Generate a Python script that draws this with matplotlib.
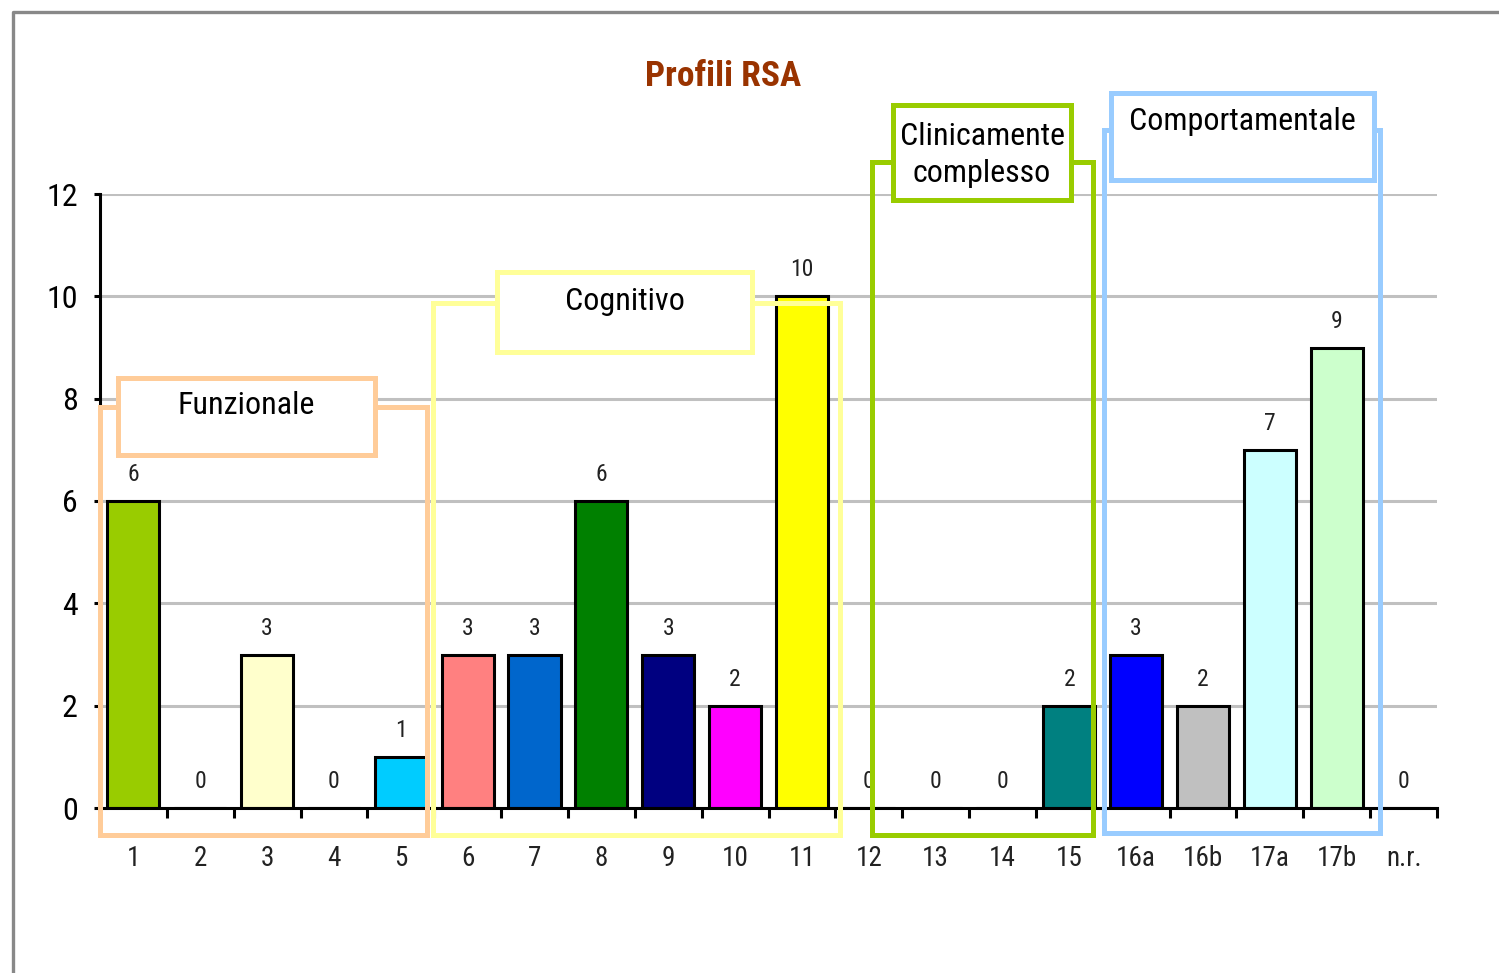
import numpy as np
import matplotlib
matplotlib.use("Agg")
import matplotlib.pyplot as plt
from matplotlib import font_manager as fm
from matplotlib.patches import Rectangle
from matplotlib.lines import Line2D

# pick a narrow sans-serif face if one is available
_installed = {(f.name, f.stretch) for f in fm.fontManager.ttflist}
_names = {n for n, _ in _installed}
FAMILY, STRETCH = 'DejaVu Sans', 'normal'
for cand in ['Liberation Sans Narrow', 'Roboto Condensed', 'Open Sans Condensed',
             'Arial Narrow', 'Noto Sans Condensed']:
    if cand in _names:
        FAMILY = cand
        break
else:
    for n, s in _installed:
        if s in ('condensed', 'semi-condensed', 'extra-condensed'):
            if n in ('Roboto', 'Noto Sans', 'Open Sans', 'DejaVu Sans', 'Lato', 'Inter'):
                FAMILY, STRETCH = n, s
                break

plt.rcParams['font.family'] = [FAMILY, 'DejaVu Sans']
plt.rcParams['font.stretch'] = STRETCH

# ---- data -------------------------------------------------------------
categories = ['1', '2', '3', '4', '5', '6', '7', '8', '9', '10', '11', '12',
              '13', '14', '15', '16a', '16b', '17a', '17b', 'n.r.']
values = [6, 0, 3, 0, 1, 3, 3, 6, 3, 2, 10, 0, 0, 0, 2, 3, 2, 7, 9, 0]
bar_colors = ['#99CC00', '#FFFFFF', '#FFFFCC', '#FFFFFF', '#00CCFF',
              '#FF8080', '#0066CC', '#008000', '#000080', '#FF00FF',
              '#FFFF00', '#FFFFFF', '#FFFFFF', '#FFFFFF', '#008080',
              '#0000FF', '#C0C0C0', '#CCFFFF', '#CCFFCC', '#FFFFFF']
y_ticks = [0, 2, 4, 6, 8, 10, 12]
title = 'Profili RSA'

# profile groups: label, border colour, outer frame and label box (pixels)
groups = [
    ('Funzionale', '#FFCC99', (100, 407, 427, 835), (118, 378, 375, 455), 405),
    ('Cognitivo', '#FFFF99', (433, 303, 840, 835), (497, 272, 752, 352), 302),
    ('Clinicamente\ncomplesso', '#99CC00', (872, 162, 1093, 835), (893, 105, 1071, 200), 155),
    ('Comportamentale', '#99CCFF', (1104, 130, 1380, 833), (1111, 93, 1374, 180), 122),
]

W, H = 1499, 973
fig = plt.figure(figsize=(W / 100, H / 100), dpi=100)


def fx(px):
    return px / W


def fy(py):
    return 1 - py / H


ax = fig.add_axes([fx(100), fy(808), fx(1437) - fx(100), fy(194) - fy(808)])

x = np.arange(len(categories))
ax.bar(x, values, width=0.78, color=bar_colors, edgecolor='black',
       linewidth=2.2, zorder=3)

for xi, v in zip(x, values):
    ax.annotate(str(v), (xi, v), xytext=(0, 19), textcoords='offset points',
                ha='center', va='center', fontsize=17, color='#222222',
                zorder=4)

ax.set_xlim(-0.5, len(categories) - 0.5)
ax.set_ylim(0, 12)
ax.set_yticks(y_ticks)
ax.set_yticklabels([str(t) for t in y_ticks], fontsize=23)
ax.set_xticks(x)
ax.set_xticklabels(categories, fontsize=19.5, color='#222222')
ax.set_xticks(np.arange(-0.5, len(categories), 1), minor=True)
ax.tick_params(axis='x', which='major', length=0, pad=27)
ax.tick_params(axis='x', which='minor', length=7, width=2.2, direction='out')
ax.tick_params(axis='y', length=4, width=2.2, pad=12)

ax.grid(axis='y', color='#C0C0C0', linewidth=2.2, zorder=0)
ax.set_axisbelow(True)
for s in ('top', 'right'):
    ax.spines[s].set_visible(False)
for s in ('left', 'bottom'):
    ax.spines[s].set_linewidth(2.2)
    ax.spines[s].set_zorder(3.5)

# outer frame of the chart area
fig.add_artist(Line2D([fx(12.5), fx(12.5), 1], [0, fy(11.5), fy(11.5)],
                      color='#888888', linewidth=2.4,
                      transform=fig.transFigure))

fig.text(fx(723), fy(76), title, ha='center', va='center', fontsize=25.5,
         fontweight='bold', color='#993300')

# group frames and their labels
for label, col, (x0, y0, x1, y1), (bx0, by0, bx1, by1), ty in groups:
    fig.add_artist(Rectangle((fx(x0), fy(y1)), fx(x1) - fx(x0), fy(y0) - fy(y1),
                             fill=False, edgecolor=col, linewidth=3.6,
                             transform=fig.transFigure, zorder=5))
    fig.add_artist(Rectangle((fx(bx0), fy(by1)), fx(bx1) - fx(bx0), fy(by0) - fy(by1),
                             facecolor='white', edgecolor=col, linewidth=3.6,
                             transform=fig.transFigure, zorder=6))
    fig.text(fx((bx0 + bx1) / 2), fy(ty), label, ha='center', va='center',
             fontsize=23, linespacing=1.35, zorder=7)

fig.savefig('out.png', dpi=100)
